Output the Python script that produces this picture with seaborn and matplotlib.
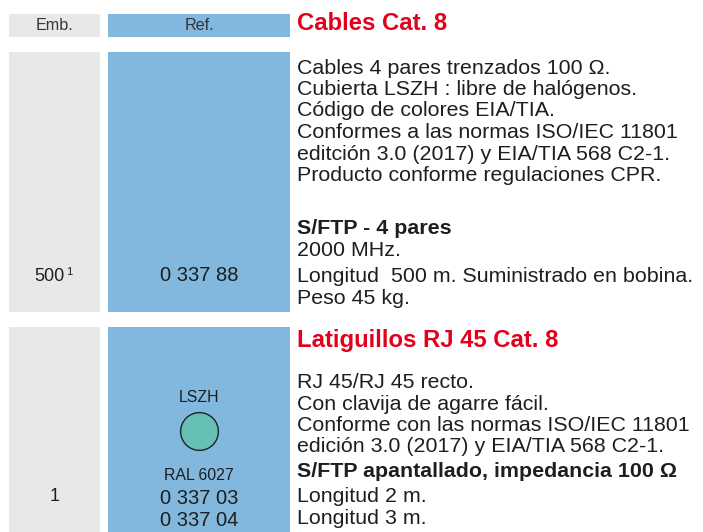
import matplotlib
matplotlib.use("Agg")
import matplotlib.pyplot as plt
import seaborn as sns
from matplotlib.patches import Rectangle

# catalogue content
header_labels = ["Emb.", "Ref."]

title_1 = "Cables Cat. 8"
desc_1 = ["Cables 4 pares trenzados 100 Ω.",
          "Cubierta LSZH : libre de halógenos.",
          "Código de colores EIA/TIA.",
          "Conformes a las normas ISO/IEC 11801",
          "editción 3.0 (2017) y EIA/TIA 568 C2-1.",
          "Producto conforme regulaciones CPR."]
spec_1 = "S/FTP - 4 pares"
spec_1_lines = ["2000 MHz.",
                "Longitud  500 m. Suministrado en bobina.",
                "Peso 45 kg."]
emb_1 = "500"
emb_1_note = "1"
ref_1 = ["0 337 88"]

title_2 = "Latiguillos RJ 45 Cat. 8"
desc_2 = ["RJ 45/RJ 45 recto.",
          "Con clavija de agarre fácil.",
          "Conforme con las normas ISO/IEC 11801",
          "edición 3.0 (2017) y EIA/TIA 568 C2-1."]
spec_2 = "S/FTP apantallado, impedancia 100 Ω"
spec_2_lines = ["Longitud 2 m.", "Longitud 3 m."]
emb_2 = "1"
ref_2 = ["0 337 03", "0 337 04"]
color_label = "LSZH"
color_name = "RAL 6027"

GREY = "#e8e8e8"
BLUE = "#82b8dd"
RED = "#e2001a"
INK = "#1e1e1e"
TEAL = "#66c0b4"

sns.set_theme(style="white")
plt.rcParams["font.family"] = ["Liberation Sans", "DejaVu Sans"]

fig = plt.figure(figsize=(7.03, 5.32), dpi=100)
ax = fig.add_axes([0, 0, 1, 1])
ax.set_xlim(0, 703)
ax.set_ylim(532, 0)
ax.axis("off")

emb_x, emb_w = 9, 91
ref_x, ref_w = 108, 182
emb_c = emb_x + emb_w / 2
ref_c = ref_x + ref_w / 2
txt_x = 297
fs = 15.4
fs_cell = 14.5
fs_title = 17.2

# cell blocks: (top, bottom)
blocks = [(14, 37), (52, 312), (327, 532)]
for top, bot in blocks:
    ax.add_patch(Rectangle((emb_x, top), emb_w, bot - top, color=GREY, lw=0))
    ax.add_patch(Rectangle((ref_x, top), ref_w, bot - top, color=BLUE, lw=0))

ax.text(emb_c, 30, header_labels[0], ha="center", va="baseline",
        fontsize=11.6, color="#333333")
ax.text(ref_c, 30, header_labels[1], ha="center", va="baseline",
        fontsize=11.6, color="#333333")

# section 1
ax.text(txt_x, 30, title_1, ha="left", va="baseline", fontsize=fs_title,
        fontweight="bold", color=RED)
for i, line in enumerate(desc_1):
    ax.text(txt_x, 73.5 + i * 21.5, line, ha="left", va="baseline", fontsize=fs, color=INK)
ax.text(txt_x, 233.5, spec_1, ha="left", va="baseline", fontsize=fs,
        fontweight="bold", color=INK)
spec_1_y = [255.5, 281.5, 303.5]
for y, line in zip(spec_1_y, spec_1_lines):
    ax.text(txt_x, y, line, ha="left", va="baseline", fontsize=fs, color=INK)
ax.text(emb_c + 10.5, 281, emb_1, ha="right", va="baseline", fontsize=13, color=INK)
ax.text(emb_c + 11.5, 275, emb_1_note, ha="left", va="baseline", fontsize=8, color=INK)
ax.text(ref_c, 281, ref_1[0], ha="center", va="baseline", fontsize=fs_cell, color=INK)

# section 2
ax.text(txt_x, 347, title_2, ha="left", va="baseline", fontsize=fs_title,
        fontweight="bold", color=RED)
for i, line in enumerate(desc_2):
    ax.text(txt_x, 388.5 + i * 21.2, line, ha="left", va="baseline", fontsize=fs, color=INK)
ax.text(txt_x, 477, spec_2, ha="left", va="baseline", fontsize=fs,
        fontweight="bold", color=INK)
for i, line in enumerate(spec_2_lines):
    ax.text(txt_x, 502 + i * 22, line, ha="left", va="baseline", fontsize=fs, color=INK)
ax.text(emb_c, 501, emb_2, ha="center", va="baseline", fontsize=13, color=INK)
for i, r in enumerate(ref_2):
    ax.text(ref_c, 504 + i * 22, r, ha="center", va="baseline", fontsize=fs_cell, color=INK)

ax.text(ref_c, 402, color_label, ha="center", va="baseline", fontsize=11.4, color=INK)
sns.scatterplot(x=[ref_c], y=[431], s=740, color=TEAL, edgecolor="#222222",
                linewidth=1.0, ax=ax, legend=False, zorder=3)
ax.text(ref_c, 480, color_name, ha="center", va="baseline", fontsize=11.4, color=INK)

fig.savefig("out.png", dpi=100)
